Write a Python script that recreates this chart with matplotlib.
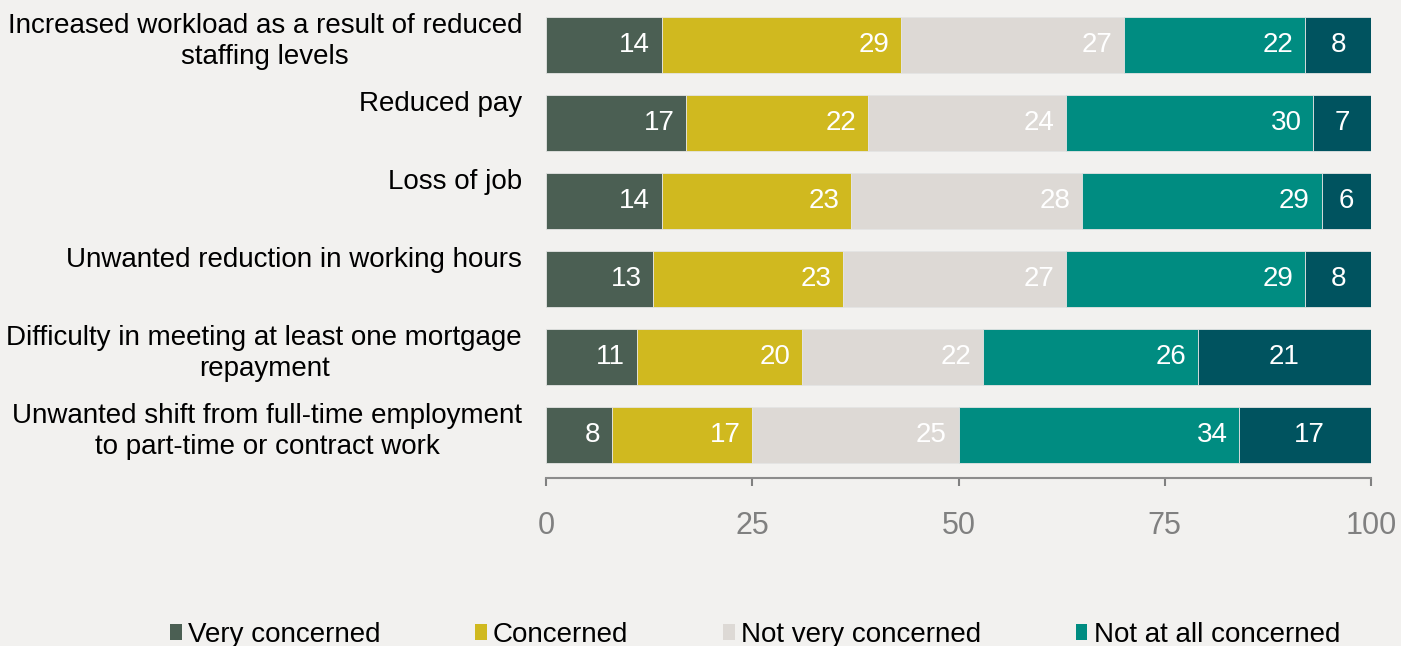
import matplotlib.pyplot as plt
from matplotlib.patches import Patch

plt.rcParams['font.family'] = ['Liberation Sans', 'DejaVu Sans']

categories = [
    'Increased workload as a result of reduced\nstaffing levels',
    'Reduced pay',
    'Loss of job',
    'Unwanted reduction in working hours',
    'Difficulty in meeting at least one mortgage\nrepayment',
    'Unwanted shift from full-time employment\nto part-time or contract work',
]
series_names = ['Very concerned', 'Concerned', 'Not very concerned',
                'Not at all concerned']
very_concerned = [14, 17, 14, 13, 11, 8]
concerned = [29, 22, 23, 23, 20, 17]
not_very = [27, 24, 28, 27, 22, 25]
not_at_all = [22, 30, 29, 29, 26, 34]
other = [8, 7, 6, 8, 21, 17]
x_ticks = [0, 25, 50, 75, 100]

series = [very_concerned, concerned, not_very, not_at_all, other]
colors = ['#4b5f53', '#d0b91f', '#ddd9d5', '#008c81', '#00535f']
bg = '#f2f1ef'

fig = plt.figure(figsize=(14.01, 6.46), dpi=100, facecolor=bg)
ax = fig.add_axes([546 / 1401, 168 / 646, 825 / 1401, 478 / 646])
ax.set_facecolor(bg)

ypos = list(range(len(categories)))
left = [0] * len(categories)
for k, (vals, col) in enumerate(zip(series, colors)):
    ax.barh(ypos, vals, left=left, height=0.72, color=col,
            edgecolor='#e4e4e4', linewidth=0.6)
    for i, v in enumerate(vals):
        end = left[i] + v
        if k < len(series) - 1:
            ax.text(end - 1.4, i, str(v), ha='right', va='center',
                    color='white', fontsize=20)
        else:
            ax.text(left[i] + v / 2, i, str(v), ha='center', va='center',
                    color='white', fontsize=20)
    left = [l + v for l, v in zip(left, vals)]

# category labels sit near the top of each bar
for i, name in enumerate(categories):
    ax.text(-24 / 825, i - 0.41, name, transform=ax.get_yaxis_transform(),
            ha='right', va='top', multialignment='center', fontsize=20,
            color='black', linespacing=1.25)

ax.set_xlim(0, 100)
ax.set_ylim(5.55, -0.58)
ax.set_yticks([])
ax.set_xticks(x_ticks)
ax.tick_params(axis='x', colors='#808080', labelsize=22, length=6,
               width=1.5, pad=18)
for s in ['top', 'right', 'left']:
    ax.spines[s].set_visible(False)
ax.spines['bottom'].set_color('#8c8c8c')
ax.spines['bottom'].set_linewidth(1.5)

handles = [Patch(facecolor=c, edgecolor='none') for c in colors[:4]]
fig.legend(handles, series_names, ncol=4, loc='upper left',
           bbox_to_anchor=(170 / 1401, 1 - 622 / 646), frameon=False,
           fontsize=20, handlelength=0.43, handleheight=0.54,
           handletextpad=0.22, columnspacing=3.4, borderpad=0,
           borderaxespad=0)

fig.savefig('out.png', dpi=100, facecolor=bg)
